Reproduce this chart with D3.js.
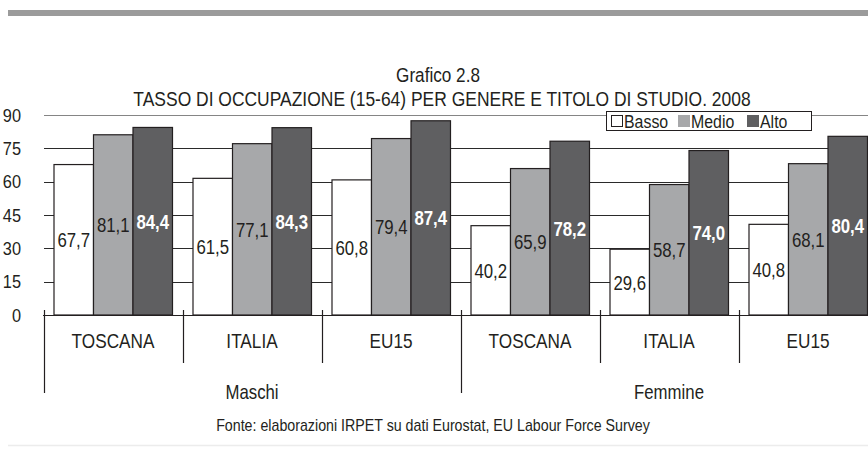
<!DOCTYPE html>
<html>
<head>
<meta charset="utf-8">
<script src="https://cdn.jsdelivr.net/npm/d3@7"></script>
<style>
  body { margin: 0; background: #fff; }
  svg { display: block; }
  text { font-family: "Liberation Sans Narrow", "Arial Narrow", "Liberation Sans", Arial, sans-serif; fill: #231f20; }
</style>
</head>
<body>
<svg id="vis" width="868" height="459"></svg>
<script>
// data
var genders = ["Maschi", "Femmine"];
var areas = ["TOSCANA", "ITALIA", "EU15"];
var series = ["Basso", "Medio", "Alto"];
var basso = [67.7, 61.5, 60.8, 40.2, 29.6, 40.8];
var medio = [81.1, 77.1, 79.4, 65.9, 58.7, 68.1];
var alto  = [84.4, 84.3, 87.4, 78.2, 74.0, 80.4];
var yTicks = [0, 15, 30, 45, 60, 75, 90];

var colors = {"Basso": "#ffffff", "Medio": "#a7a8aa", "Alto": "#5f5f61"};
var fmt = function(v) { return v.toFixed(1).replace(".", ","); };

var svg = d3.select("#vis"),
    width = +svg.attr("width"),
    height = +svg.attr("height");

// no narrow font installed, so squeeze the regular one
function squeeze(fx, fy, sx) {
  return function(d, i) {
    var xx = typeof fx === "function" ? fx(d, i) : fx;
    var yy = typeof fy === "function" ? fy(d, i) : fy;
    return "translate(" + xx + "," + yy + ") scale(" + sx + ",1)";
  };
}

// build rows
var groups = [];
genders.forEach(function(g, gi) {
  areas.forEach(function(a, ai) {
    var i = gi * 3 + ai;
    groups.push({key: g + "-" + a, gender: g, area: a,
      values: [{s: "Basso", v: basso[i]}, {s: "Medio", v: medio[i]}, {s: "Alto", v: alto[i]}]});
  });
});

var x0 = d3.scaleBand()
    .domain(groups.map(function(d) { return d.key; }))
    .range([43.5, 877.5])
    .padding(0);

var x1 = d3.scaleBand()
    .domain(series)
    .range([10.5, x0.bandwidth() - 10])
    .padding(0);

var y = d3.scaleLinear()
    .domain([0, 90])
    .range([315, 115]);

// top band and bottom rule
svg.append("rect").attr("x", 8).attr("y", 10).attr("width", width - 8).attr("height", 6).attr("fill", "#9b9b9b");
svg.append("line").attr("x1", 8).attr("x2", width).attr("y1", 445.5).attr("y2", 445.5)
    .attr("stroke", "#ececec").attr("stroke-width", 1.5);

// titles
svg.append("text").attr("transform", squeeze(438, 82, 0.88)).attr("text-anchor", "middle")
    .style("font-size", "19.5px").text("Grafico 2.8");
svg.append("text").attr("transform", squeeze(442, 106, 0.895)).attr("text-anchor", "middle")
    .style("font-size", "19.5px").text("TASSO DI OCCUPAZIONE (15-64) PER GENERE E TITOLO DI STUDIO. 2008");

// gridlines
svg.append("g").selectAll("line")
    .data(yTicks.filter(function(t) { return t > 0; }))
    .enter().append("line")
      .attr("x1", 44).attr("x2", width)
      .attr("y1", function(d) { return Math.round(y(d)) + 0.5; })
      .attr("y2", function(d) { return Math.round(y(d)) + 0.5; })
      .attr("stroke", function(d) { return d === 90 ? "#858585" : "#2a2a2a"; })
      .attr("stroke-width", 1);

// y labels
svg.append("g").selectAll("text")
    .data(yTicks)
    .enter().append("text")
      .attr("transform", squeeze(21, function(d) { return y(d) + 6.5; }, 0.86))
      .attr("text-anchor", "end")
      .style("font-size", "19px")
      .text(function(d) { return d; });

// bars
var grp = svg.append("g").selectAll("g")
    .data(groups)
    .enter().append("g")
      .attr("transform", function(d) { return "translate(" + x0(d.key) + ",0)"; });

grp.selectAll("rect")
    .data(function(d) { return d.values; })
    .enter().append("rect")
      .attr("x", function(d) { return x1(d.s); })
      .attr("y", function(d) { return y(d.v); })
      .attr("width", x1.bandwidth())
      .attr("height", function(d) { return y(0) - y(d.v); })
      .attr("fill", function(d) { return colors[d.s]; })
      .attr("stroke", "#231f20")
      .attr("stroke-width", 1.2);

grp.selectAll("text")
    .data(function(d) { return d.values; })
    .enter().append("text")
      .attr("transform", squeeze(function(d) { return x1(d.s) + x1.bandwidth() / 2; },
                                 function(d) { return (y(d.v) + y(0)) / 2 + 7.5; }, 0.8))
      .attr("text-anchor", "middle")
      .style("font-size", "21px")
      .style("font-weight", function(d) { return d.s === "Alto" ? "bold" : "normal"; })
      .style("fill", function(d) { return d.s === "Alto" ? "#ffffff" : "#231f20"; })
      .text(function(d) { return fmt(d.v); });

// category axis
svg.append("line").attr("x1", 43).attr("x2", width).attr("y1", 315.5).attr("y2", 315.5)
    .attr("stroke", "#231f20").attr("stroke-width", 1.2);

var bounds = groups.map(function(d) { return x0(d.key); }).concat([x0.range()[1]]);
svg.append("g").selectAll("line")
    .data(bounds)
    .enter().append("line")
      .attr("x1", function(d) { return Math.round(d) + 0.5; })
      .attr("x2", function(d) { return Math.round(d) + 0.5; })
      .attr("y1", 310)
      .attr("y2", function(d, i) { return i % 3 === 0 ? 393 : 363; })
      .attr("stroke", "#231f20").attr("stroke-width", 1.2);

svg.append("g").selectAll("text")
    .data(groups)
    .enter().append("text")
      .attr("transform", squeeze(function(d) { return x0(d.key) + x0.bandwidth() / 2; }, 348, 0.86))
      .attr("text-anchor", "middle")
      .style("font-size", "20px")
      .text(function(d) { return d.area; });

svg.append("g").selectAll("text")
    .data(genders)
    .enter().append("text")
      .attr("transform", squeeze(function(d, i) { return (bounds[i * 3] + bounds[i * 3 + 3]) / 2; }, 399, 0.84))
      .attr("text-anchor", "middle")
      .style("font-size", "20px")
      .text(function(d) { return d; });

// source
svg.append("text").attr("transform", squeeze(433, 431, 0.89)).attr("text-anchor", "middle")
    .style("font-size", "16px")
    .text("Fonte: elaborazioni IRPET su dati Eurostat, EU Labour Force Survey");

// legend
var legend = svg.append("g").attr("transform", "translate(606,111)");
legend.append("rect").attr("x", 0.5).attr("y", 0.5).attr("width", 205).attr("height", 19)
    .attr("fill", "#fff").attr("stroke", "#231f20").attr("stroke-width", 1);
var legX = [5, 72, 141];
var li = legend.selectAll("g.item")
    .data(series)
    .enter().append("g")
      .attr("class", "item")
      .attr("transform", function(d, i) { return "translate(" + legX[i] + ",0)"; });
li.append("rect").attr("x", 0.5).attr("y", 4.5).attr("width", 11).attr("height", 11)
    .attr("fill", function(d) { return colors[d]; })
    .attr("stroke", function(d) { return d === "Basso" ? "#231f20" : colors[d]; })
    .attr("stroke-width", 1);
li.append("text").attr("transform", squeeze(13, 16.5, 0.86))
    .style("font-size", "18.5px")
    .text(function(d) { return d; });
</script>
</body>
</html>
